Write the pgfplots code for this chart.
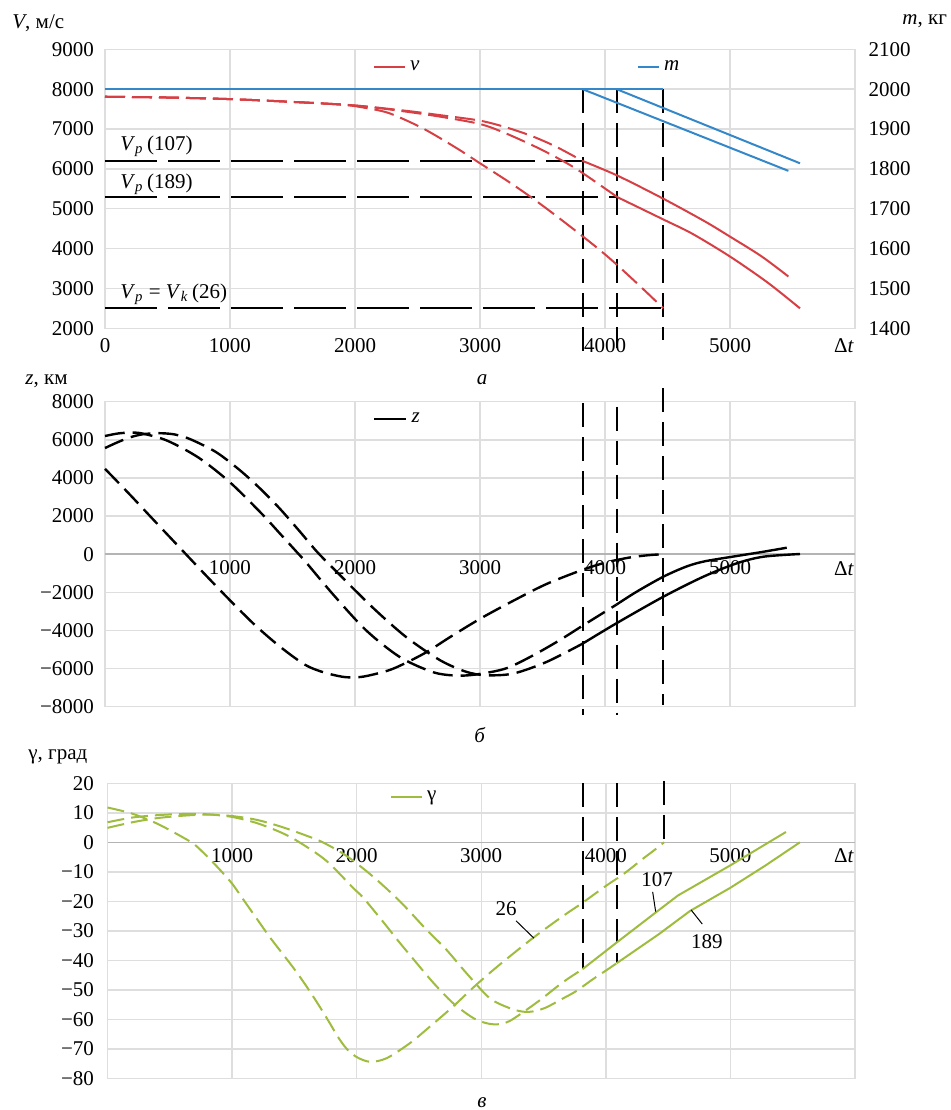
\documentclass[border=0pt]{standalone}
\usepackage{fontspec}
\setmainfont{Liberation Serif}
\usepackage{pgfplots}
\pgfplotsset{compat=1.18}
\definecolor{vred}{RGB}{214,64,69}
\definecolor{mblue}{RGB}{52,136,201}
\definecolor{ggreen}{RGB}{158,188,62}
\definecolor{gridc}{RGB}{222,222,222}
\definecolor{zeroc}{RGB}{180,180,180}
\newcommand{\fs}{\fontsize{10.5}{12}\selectfont}
\pgfplotsset{
  base/.style={
    scale only axis, anchor=south west,
    xmin=0, xmax=6000,
    grid=major, major grid style={draw=gridc, line width=0.7pt},
    axis line style={draw=gridc, line width=0.7pt},
    major tick length=0pt,
    tick label style={font=\fs, inner sep=0pt},
    clip=false,
    legend style={draw=none, fill=none, inner sep=0pt, font=\fs, legend cell align=left},
  },
  vline/.style={black, line width=1pt, dash pattern=on 12pt off 5pt, forget plot},
  hline/.style={black, line width=0.9pt, dash pattern=on 26pt off 5.5pt, forget plot},
}
\begin{document}
\begin{tikzpicture}
\useasboundingbox (0,0) rectangle (475pt,555pt);
% ---------------- top panel: V
\begin{axis}[base, at={(52.5pt,390.85pt)}, width=375pt, height=139.5pt,
  ymin=2000, ymax=9000,
  xtick={0,1000,2000,3000,4000,5000}, xticklabels={0,1000,2000,3000,4000,5000},
  ytick={2000,3000,4000,5000,6000,7000,8000,9000},
  yticklabels={2000,3000,4000,5000,6000,7000,8000,9000},
  xticklabel style={anchor=north, yshift=-4.85pt},
  yticklabel style={anchor=east, xshift=-5.35pt},
  legend style={at={(0.357,0.9366)}, anchor=west},
  legend image code/.code={\draw[#1] (0pt,0pt) -- (15.5pt,0pt);},
]
\addlegendimage{vred, line width=1pt}
\addlegendentry{\textit{v}}
% reference lines
\addplot[hline] coordinates {(0,6200) (3820,6200)};
\addplot[hline] coordinates {(0,5300) (4093,5300)};
\addplot[hline] coordinates {(0,2500) (4467,2500)};
\addplot[vline] coordinates {(3820,8000) (3820,1330)};
\addplot[vline] coordinates {(4093,8000) (4093,1505)};
\addplot[vline] coordinates {(4467,8000) (4467,1706)};
% velocity, trajectory 26
\addplot[vred, line width=1pt, dash pattern=on 10pt off 3.5pt, smooth, forget plot] coordinates {
(0,7810)(500,7790)(1000,7750)(1500,7680)(1900,7610)(2100,7520)(2280,7390)(2547,7010)
(2813,6520)(3000,6140)(3213,5710)(3400,5308)(3587,4875)(3800,4360)(3960,3960)(4093,3600)
(4300,3000)(4467,2500)};
% trajectory 107
\addplot[vred, line width=1pt, dash pattern=on 10pt off 3.5pt, smooth, forget plot] coordinates {
(0,7810)(500,7790)(1000,7750)(1500,7680)(2000,7590)(2400,7460)(2700,7340)(3000,7210)
(3200,7050)(3400,6840)(3600,6570)(3820,6200)};
\addplot[vred, line width=1pt, smooth, forget plot] coordinates {
(3820,6200)(4100,5830)(4467,5250)(4800,4680)(5000,4300)(5250,3810)(5467,3300)};
% trajectory 189
\addplot[vred, line width=1pt, dash pattern=on 10pt off 3.5pt, smooth, forget plot] coordinates {
(0,7810)(500,7790)(1000,7750)(1500,7680)(2000,7590)(2400,7440)(2700,7300)(3000,7125)
(3200,6900)(3480,6500)(3750,6040)(4040,5420)(4093,5300)};
\addplot[vred, line width=1pt, smooth, forget plot] coordinates {
(4093,5300)(4467,4730)(4700,4370)(5000,3800)(5300,3150)(5560,2500)};
\node[anchor=base west, inner sep=0pt, font=\fs] at (axis cs:120,6473) {\textit{V}\textsubscript{\textit{p}}\,(107)};
\node[anchor=base west, inner sep=0pt, font=\fs] at (axis cs:120,5512) {\textit{V}\textsubscript{\textit{p}}\,(189)};
\node[anchor=base west, inner sep=0pt, font=\fs] at (axis cs:120,2752) {\textit{V}\textsubscript{\textit{p}} = \textit{V}\textsubscript{\textit{k}}\,(26)};
\node[anchor=north, inner sep=0pt, font=\fs, yshift=-4.85pt] at (axis cs:5912,2000) {Δ\textit{t}};
\end{axis}
% ---------------- top panel: m (right axis)
\begin{axis}[base, at={(52.5pt,390.85pt)}, width=375pt, height=139.5pt,
  ymin=1400, ymax=2100, grid=none,
  axis y line*=right, axis x line=none,
  ytick={1400,1500,1600,1700,1800,1900,2000,2100},
  yticklabels={1400,1500,1600,1700,1800,1900,2000,2100},
  yticklabel style={anchor=west, xshift=6.65pt},
  legend style={at={(0.709,0.9366)}, anchor=west},
  legend image code/.code={\draw[#1] (0pt,0pt) -- (10.5pt,0pt);},
]
\addlegendimage{mblue, line width=1pt}
\addlegendentry{\textit{m}}
\addplot[mblue, line width=1pt, forget plot] coordinates {(0,2000) (4467,2000)};
\addplot[mblue, line width=1pt, forget plot] coordinates {(3820,2000) (5467,1795)};
\addplot[mblue, line width=1pt, forget plot] coordinates {(4093,2000) (5560,1814)};
\end{axis}
% ---------------- middle panel: z
\begin{axis}[base, at={(52.5pt,201.65pt)}, width=375pt, height=152.5pt,
  ymin=-8000, ymax=8000,
  xtick={1000,2000,3000,4000,5000}, xticklabels={1000,2000,3000,4000,5000},
  ytick={-8000,-6000,-4000,-2000,0,2000,4000,6000,8000},
  yticklabels={−8000,−6000,−4000,−2000,0,2000,4000,6000,8000},
  xticklabel style={anchor=north, yshift=73.35pt},
  yticklabel style={anchor=east, xshift=-5.35pt},
  legend style={at={(0.357,0.943)}, anchor=west},
  legend image code/.code={\draw[#1] (0pt,0pt) -- (16pt,0pt);},
]
\addlegendimage{black, line width=1.2pt}
\addlegendentry{\textit{z}}
\draw[zeroc, line width=0.8pt] (axis cs:0,0) -- (axis cs:6000,0);
\addplot[vline] coordinates {(3820,7932) (3820,-8436)};
\addplot[vline] coordinates {(4093,7738) (4093,-8436)};
\addplot[vline] coordinates {(4467,8703) (4467,-7912)};
% trajectory 26
\addplot[black, line width=1.2pt, dash pattern=on 10pt off 4pt, smooth, forget plot] coordinates {
(0,4480)(200,3120)(400,1720)(600,330)(800,-1060)(1000,-2420)(1200,-3720)(1400,-4850)
(1600,-5800)(1750,-6200)(1900,-6430)(2000,-6460)(2100,-6380)(2300,-6020)(2550,-5220)
(2760,-4350)(3000,-3390)(3270,-2430)(3530,-1570)(3820,-820)(4010,-430)(4200,-170)
(4350,-50)(4467,0)};
% curve P
\addplot[black, line width=1.2pt, dash pattern=on 10pt off 4pt, smooth, forget plot] coordinates {
(0,6200)(100,6330)(200,6380)(300,6330)(500,5950)(750,5060)(1000,3770)(1250,2150)
(1400,1080)(1550,0)(1600,-360)(1830,-2150)(2090,-4000)(2360,-5400)(2630,-6200)
(2830,-6370)(3000,-6280)(3213,-5980)(3427,-5300)(3640,-4500)(3821,-3750)(4093,-2640)};
\addplot[black, line width=1.2pt, smooth, forget plot] coordinates {
(4093,-2640)(4250,-1980)(4467,-1180)(4650,-650)(4800,-370)(5054,-95)(5250,110)(5454,340)};
% curve Q
\addplot[black, line width=1.2pt, dash pattern=on 10pt off 4pt, smooth, forget plot] coordinates {
(0,5570)(100,5870)(200,6130)(300,6290)(420,6350)(550,6290)(680,6040)(890,5350)
(1080,4400)(1240,3450)(1400,2380)(1560,1180)(1700,100)(1880,-1100)(2150,-2850)
(2410,-4350)(2680,-5560)(2890,-6170)(3050,-6350)(3267,-6260)(3533,-5650)(3820,-4695)};
\addplot[black, line width=1.2pt, smooth, forget plot] coordinates {
(3820,-4695)(4091,-3626)(4467,-2230)(4787,-1180)(5054,-478)(5267,-131)(5560,10)};
\node[anchor=north, inner sep=0pt, font=\fs, yshift=-3.35pt] at (axis cs:5912,0) {Δ\textit{t}};
\end{axis}
% ---------------- bottom panel: gamma
\begin{axis}[base, at={(53.75pt,15.85pt)}, width=373.75pt, height=147.5pt,
  ymin=-80, ymax=20,
  xtick={1000,2000,3000,4000,5000}, xticklabels={1000,2000,3000,4000,5000},
  ytick={-80,-70,-60,-50,-40,-30,-20,-10,0,10,20},
  yticklabels={−80,−70,−60,−50,−40,−30,−20,−10,0,10,20},
  xticklabel style={anchor=north, yshift=115.15pt},
  yticklabel style={anchor=east, xshift=-6.6pt},
  legend style={at={(0.378,0.9546)}, anchor=west},
  legend image code/.code={\draw[#1] (0pt,0pt) -- (15.3pt,0pt);},
]
\addlegendimage{ggreen, line width=1pt}
\addlegendentry{γ}
\draw[zeroc, line width=0.8pt] (axis cs:0,0) -- (axis cs:6000,0);
\addplot[vline] coordinates {(3820,20) (3820,-43)};
\addplot[vline] coordinates {(4093,20) (4093,-41)};
\addplot[vline] coordinates {(4467,20.8) (4467,0)};
% trajectory 26
\addplot[ggreen, line width=1pt, dash pattern=on 8.5pt off 3.5pt, smooth, forget plot] coordinates {
(0,11.8)(200,9.7)(400,6.3)(600,1.8)(700,-0.8)(800,-4.8)(900,-9.2)(1000,-14)(1100,-20)
(1200,-26)(1300,-32)(1400,-37.5)(1500,-43)(1600,-49)(1700,-55.5)(1787,-61.5)(1850,-66)
(1920,-70)(2000,-72.8)(2107,-74.4)(2240,-73.2)(2427,-68.1)(2587,-62.5)(2773,-55.7)
(2960,-48.3)(3147,-41.5)(3413,-32.5)(3653,-25.1)(3813,-20.5)(4000,-14.8)(4150,-10.5)
(4300,-5.5)(4400,-2.3)(4467,0)};
% trajectory 107
\addplot[ggreen, line width=1pt, dash pattern=on 8.5pt off 3.5pt, smooth, forget plot] coordinates {
(0,6.8)(200,8.4)(400,9.2)(600,9.6)(800,9.5)(1000,8.6)(1200,6.5)(1400,3.2)(1541,0)
(1755,-6.2)(1968,-15.3)(2053,-18.8)(2213,-27)(2341,-33.8)(2453,-39.5)(2613,-47.5)
(2773,-54.5)(2933,-59.5)(3040,-61.3)(3130,-61.7)(3227,-60.6)(3373,-56.5)(3493,-52.8)
(3653,-47.5)(3813,-43)};
\addplot[ggreen, line width=1pt, forget plot] coordinates {
(3813,-43)(4080,-34.2)(4400,-23.8)(4580,-18)(5000,-7.8)(5446,3.5)};
% trajectory 189
\addplot[ggreen, line width=1pt, dash pattern=on 8.5pt off 3.5pt, smooth, forget plot] coordinates {
(0,4.9)(200,6.8)(400,8.2)(600,9.0)(800,9.4)(1000,8.9)(1200,7.6)(1400,5.2)(1600,2.2)
(1728,0)(1915,-4.5)(2128,-11.5)(2347,-20)(2560,-29.6)(2720,-36.4)(2880,-44.3)
(3067,-52.8)(3227,-56.2)(3333,-57.4)(3420,-57.3)(3520,-56)(3653,-53)(3760,-50.5)
(3893,-46.5)(4000,-43.5)(4087,-41)};
\addplot[ggreen, line width=1pt, forget plot] coordinates {
(4087,-41)(4427,-31.1)(4675,-23.3)(5000,-15.4)(5280,-7.9)(5558,0)};
% annotations
\draw[black, line width=0.5pt] (axis cs:3279,-26.6) -- (axis cs:3423,-32.5);
\draw[black, line width=0.5pt] (axis cs:4376,-16.8) -- (axis cs:4400,-23.5);
\draw[black, line width=0.5pt] (axis cs:4684,-22.9) -- (axis cs:4774,-27.7);
\node[inner sep=0pt, font=\fs] at (axis cs:3199,-22.6) {26};
\node[inner sep=0pt, font=\fs] at (axis cs:4411,-12.8) {107};
\node[inner sep=0pt, font=\fs] at (axis cs:4812,-33.5) {189};
\node[anchor=north, inner sep=0pt, font=\fs, yshift=-2.85pt] at (axis cs:5912,0) {Δ\textit{t}};
\end{axis}
% axis titles and panel letters
\node[anchor=west, inner sep=0pt, font=\fs] at (6pt,543.5pt) {\textit{V}, м/с};
\node[anchor=west, inner sep=0pt, font=\fs] at (451pt,544.5pt) {\textit{m}, кг};
\node[anchor=west, inner sep=0pt, font=\fs] at (12.5pt,364.5pt) {\textit{z}, км};
\node[anchor=west, inner sep=0pt, font=\fs] at (14pt,176.5pt) {γ, град};
\node[anchor=base, inner sep=0pt, font=\fs] at (241pt,362.5pt) {\textit{а}};
\node[anchor=base, inner sep=0pt, font=\fs] at (240pt,183.5pt) {\textit{б}};
\node[anchor=base, inner sep=0pt, font=\fs] at (241pt,1.5pt) {\textit{в}};
\end{tikzpicture}
\end{document}
